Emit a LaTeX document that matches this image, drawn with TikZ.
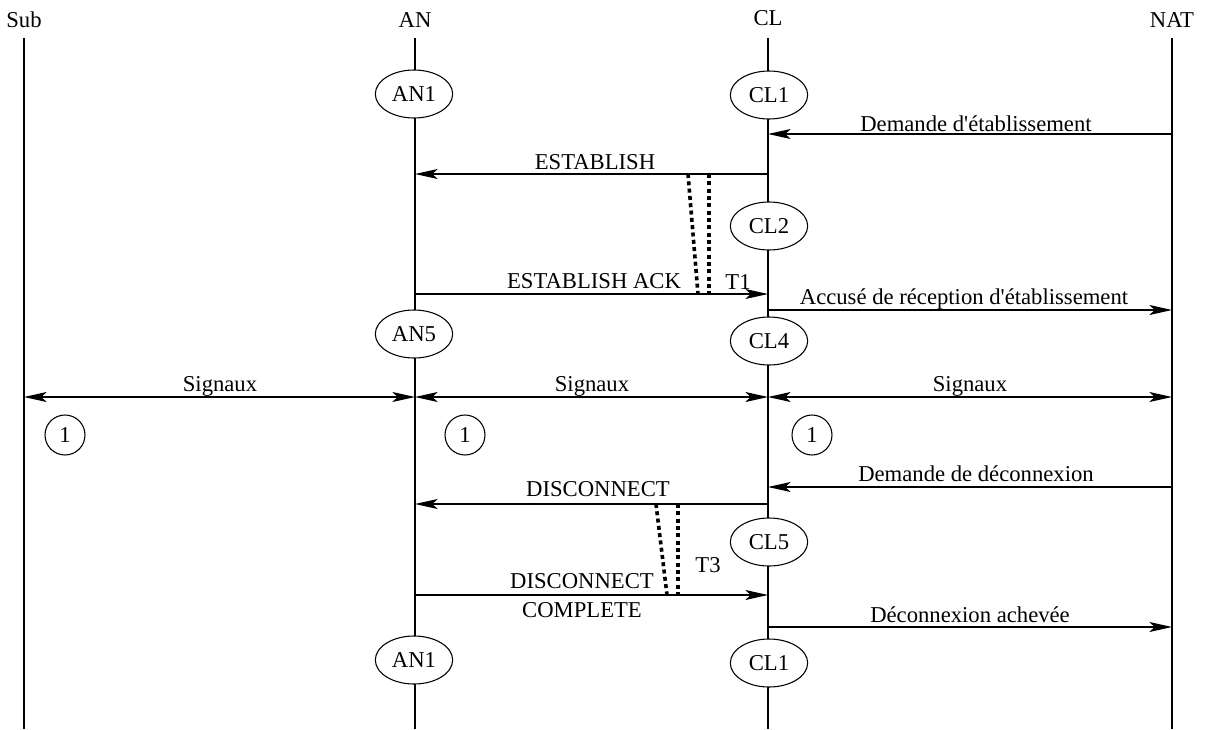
\documentclass[tikz,border=0pt]{standalone}
\usepackage{fontspec}
\setmainfont{Liberation Serif}
\usetikzlibrary{arrows.meta,shapes.geometric}

\begin{document}
\begin{tikzpicture}[x=0.75pt,y=-0.75pt,
    every node/.style={font=\fontsize{17}{20}\selectfont},
    lifeline/.style={line width=0.8pt},
    etat/.style={draw, ellipse, fill=white, line width=0.8pt, inner sep=0pt,
        minimum width=58pt, minimum height=36pt},
    rond/.style={draw, circle, line width=0.8pt, inner sep=0pt, minimum size=30pt},
    msg/.style={line width=0.9pt, -{Stealth[length=17pt, width=7.5pt, inset=4pt]}},
    msgdouble/.style={line width=0.9pt,
        {Stealth[length=17pt, width=7.5pt, inset=4pt]}-{Stealth[length=17pt, width=7.5pt, inset=4pt]}},
    tempo/.style={line width=2.7pt, dash pattern=on 3pt off 2.5pt},
    lbl/.style={anchor=base, inner sep=0pt}]

    \useasboundingbox (0,0) rectangle (1213,729);

    % entités
    \node[lbl] (sub) at (24,27) {Sub};
    \node[lbl] (an)  at (415,27) {AN};
    \node[lbl] (cl)  at (768,25) {CL};
    \node[lbl] (nat) at (1172,27) {NAT};

    % lignes de vie
    \coordinate (subH) at (24,38);   \coordinate (subB) at (24,729);
    \coordinate (anH)  at (415,38);  \coordinate (anB)  at (415,729);
    \coordinate (clH)  at (768,38);  \coordinate (clB)  at (768,729);
    \coordinate (natH) at (1172,38); \coordinate (natB) at (1172,729);
    \draw[lifeline] (subH) -- (subB);
    \draw[lifeline] (anH) -- (anB);
    \draw[lifeline] (clH) -- (clB);
    \draw[lifeline] (natH) -- (natB);

    % états
    \node[etat] (an1)  at (414,94)  {AN1};
    \node[etat] (cl1)  at (769,95)  {CL1};
    \node[etat] (cl2)  at (769,226) {CL2};
    \node[etat] (an5)  at (414,334) {AN5};
    \node[etat] (cl4)  at (769,341) {CL4};
    \node[etat] (cl5)  at (769,542) {CL5};
    \node[etat] (an1b) at (414,660) {AN1};
    \node[etat] (cl1b) at (769,663) {CL1};

    % établissement
    \coordinate (natE) at (1172,134); \coordinate (clE) at (768,134);
    \draw[msg] (natE) -- (clE);
    \node[lbl] (lDem) at (976,131) {Demande d\textquotesingle établissement};

    \coordinate (clEst) at (768,174); \coordinate (anEst) at (415,174);
    \draw[msg] (clEst) -- (anEst);
    \node[lbl] (lEst) at (595,169) {ESTABLISH};

    \coordinate (anAck) at (415,294); \coordinate (clAck) at (768,294);
    \draw[msg] (anAck) -- (clAck);
    \node[lbl] (lAck) at (594,288) {ESTABLISH ACK};

    \coordinate (clAcc) at (768,310); \coordinate (natAcc) at (1172,310);
    \draw[msg] (clAcc) -- (natAcc);
    \node[lbl] (lAcc) at (964,304) {Accusé de réception d\textquotesingle établissement};

    % temporisateur T1
    \coordinate (t1a) at (688,174); \coordinate (t1b) at (698,294);
    \coordinate (t1c) at (709,174); \coordinate (t1d) at (709,294);
    \draw[tempo] (t1a) -- (t1b);
    \draw[tempo] (t1c) -- (t1d);
    \node[lbl] (lT1) at (738,289) {T1};

    % signaux
    \coordinate (subS) at (24,397); \coordinate (anS) at (415,397);
    \coordinate (clS) at (768,397); \coordinate (natS) at (1172,397);
    \draw[msgdouble] (subS) -- (anS);
    \draw[msgdouble] (anS) -- (clS);
    \draw[msgdouble] (clS) -- (natS);
    \node[lbl] (lSig1) at (220,391) {Signaux};
    \node[lbl] (lSig2) at (592,391) {Signaux};
    \node[lbl] (lSig3) at (970,391) {Signaux};

    \node[rond] (r1) at (65,435)  {1};
    \node[rond] (r2) at (465,435) {1};
    \node[rond] (r3) at (812,435) {1};

    % déconnexion
    \coordinate (natD) at (1172,487); \coordinate (clD) at (768,487);
    \draw[msg] (natD) -- (clD);
    \node[lbl] (lDdc) at (976,481) {Demande de déconnexion};

    \coordinate (clDis) at (768,504); \coordinate (anDis) at (415,504);
    \draw[msg] (clDis) -- (anDis);
    \node[lbl] (lDis) at (598,496) {DISCONNECT};

    \coordinate (anCpl) at (415,595); \coordinate (clCpl) at (768,595);
    \draw[msg] (anCpl) -- (clCpl);
    \node[lbl] (lCpl1) at (582,588) {DISCONNECT};
    \node[lbl] (lCpl2) at (582,617) {COMPLETE};

    \coordinate (clAch) at (768,627); \coordinate (natAch) at (1172,627);
    \draw[msg] (clAch) -- (natAch);
    \node[lbl] (lAch) at (970,622) {Déconnexion achevée};

    % temporisateur T3
    \coordinate (t3a) at (656,504); \coordinate (t3b) at (667,595);
    \coordinate (t3c) at (678,504); \coordinate (t3d) at (678,595);
    \draw[tempo] (t3a) -- (t3b);
    \draw[tempo] (t3c) -- (t3d);
    \node[lbl] (lT3) at (708,572) {T3};
\end{tikzpicture}
\end{document}
